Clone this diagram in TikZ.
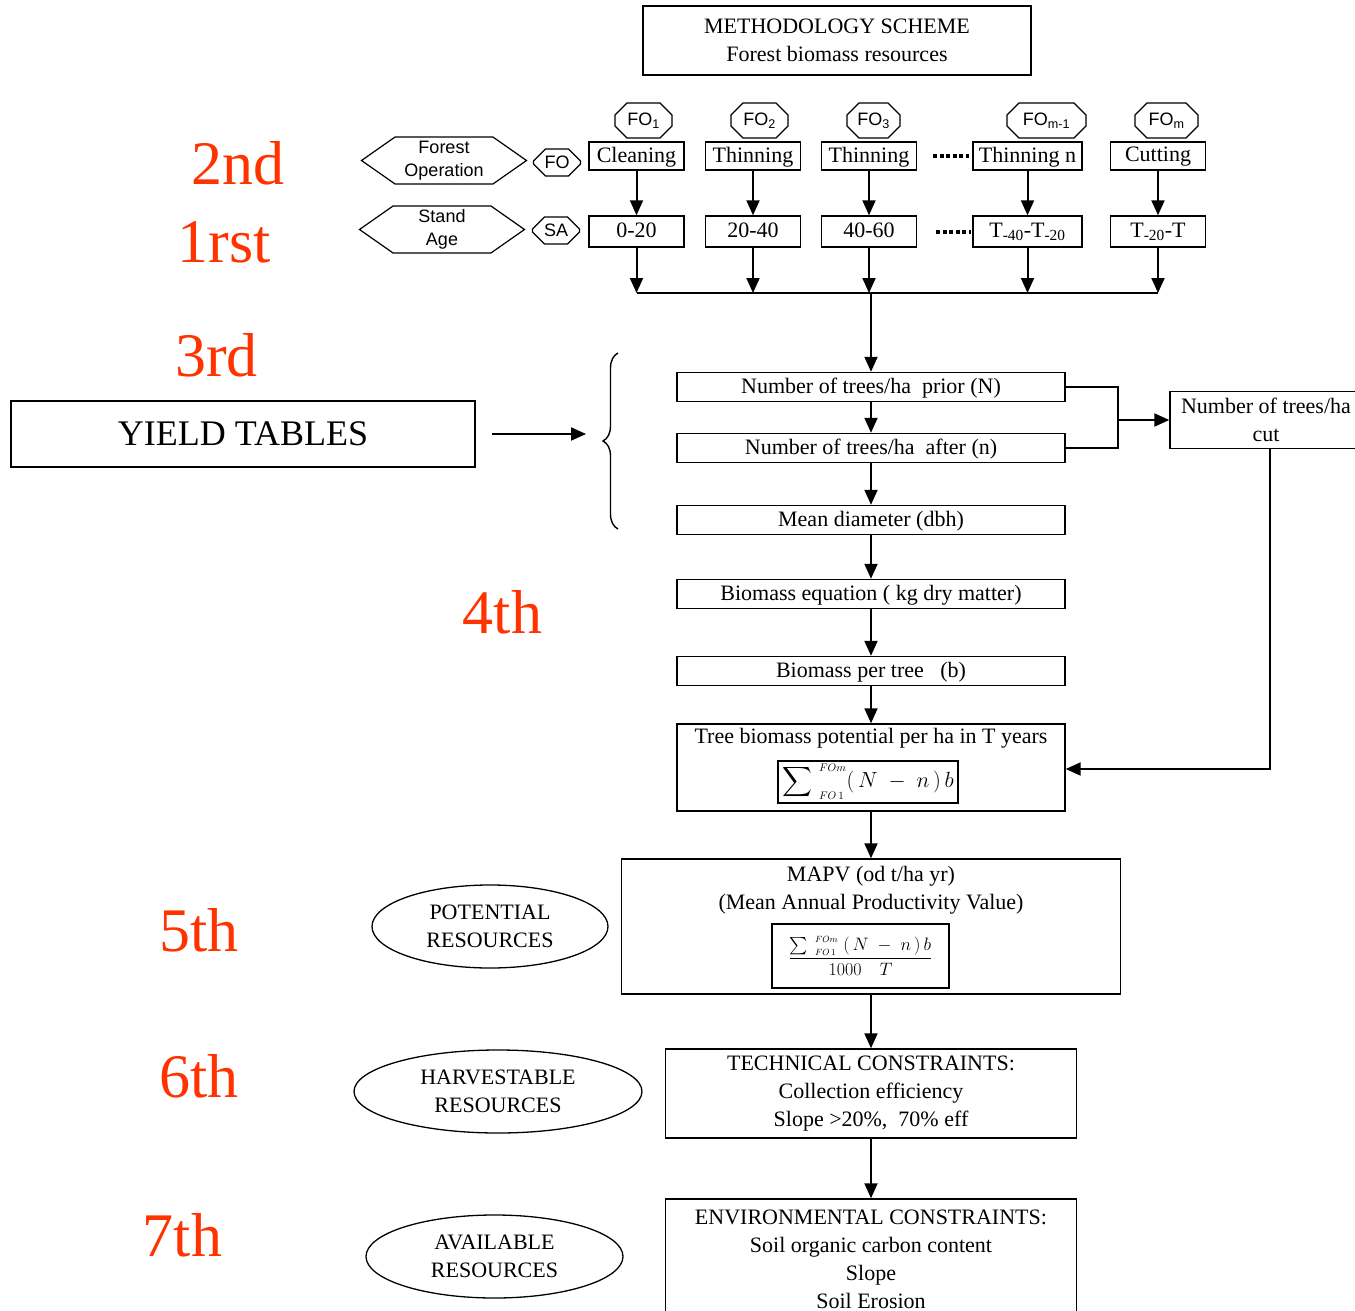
\documentclass[tikz,border=0pt]{standalone}
\usepackage{fix-cm}
\usepackage{amsmath}
\usepackage{fontspec}
\setmainfont{Liberation Serif}
\setsansfont{Liberation Sans}
\usepackage{tikz}
\usetikzlibrary{arrows.meta,shapes.geometric,shapes.misc,shapes.symbols,decorations.pathreplacing}
\definecolor{stagered}{RGB}{255,51,0}
\newcommand{\txtsize}{\fontsize{22}{28}\selectfont}
\newcommand{\sanssize}{\fontsize{18}{23}\selectfont\sffamily}
\newcommand{\fosum}{\sum\nolimits^{\hspace{7pt}\scriptscriptstyle FOm}_{\hspace{7pt}\scriptscriptstyle FO\,1}}
\tikzstyle{stepbox} = [draw, line width=1.4pt, inner sep=2pt, align=center, font=\txtsize]
\tikzstyle{colbox} = [stepbox, minimum width=388pt, minimum height=29pt, text depth=3pt]
\tikzstyle{opbox} = [stepbox, minimum width=95pt, minimum height=28pt, text depth=3pt]
\tikzstyle{agebox} = [stepbox, minimum width=95pt, minimum height=31pt, text depth=3pt]
\tikzstyle{tag} = [draw, line width=1.2pt, chamfered rectangle, chamfered rectangle xsep=6pt, chamfered rectangle ysep=6pt, inner sep=1pt, font=\sanssize]
\tikzstyle{hexa} = [draw, line width=1.2pt, signal, signal to=west and east, signal pointer angle=70, minimum width=165pt, minimum height=47pt, inner sep=0pt, align=center, font=\sanssize]
\tikzstyle{res} = [draw, ellipse, line width=1.3pt, minimum height=83pt, inner sep=0pt, align=center, font=\txtsize]
\tikzstyle{stage} = [text=stagered, font=\fontsize{62}{62}\selectfont]
\tikzstyle{link} = [->, line width=2pt]
\tikzstyle{dots} = [line width=4pt, dash pattern=on 4pt off 2.5pt]

\begin{document}
\begin{tikzpicture}[x=1pt, y=-1pt, >={Triangle[length=15pt,width=13pt]}]
  \useasboundingbox (0,0) rectangle (1355,1311);
  \node[stepbox, minimum width=388pt, minimum height=69pt] (title) at (837,40.5) {METHODOLOGY SCHEME\\Forest biomass resources};
  % stages
  \node[stage] (s2) at (237.5,163) {2nd};
  \node[stage] (s1) at (224,242) {1rst};
  \node[stage] (s3) at (216.5,355) {3rd};
  \node[stage] (s4) at (502.5,612) {4th};
  \node[stage] (s5) at (199,930) {5th};
  \node[stage] (s6) at (199,1076) {6th};
  \node[stage] (s7) at (182.5,1235) {7th};
  % forest operations and stand age
  \node[hexa] (forestop) at (444,160.5) {Forest\\Operation};
  \node[hexa] (standage) at (442,229.5) {Stand\\Age};
  \node[tag, minimum width=47pt, minimum height=27pt] (fo) at (557,162.5) {FO};
  \node[tag, minimum width=47pt, minimum height=27pt] (sa) at (556,230.5) {SA};
  \node[tag, minimum width=57pt, minimum height=35pt] (fo1) at (643.5,120.5) {FO\textsubscript{1}};
  \node[tag, minimum width=57pt, minimum height=35pt] (fo2) at (759.5,120.5) {FO\textsubscript{2}};
  \node[tag, minimum width=53pt, minimum height=35pt] (fo3) at (873.5,120.5) {FO\textsubscript{3}};
  \node[tag, minimum width=79pt, minimum height=35pt] (fo4) at (1046.5,120.5) {FO\textsubscript{m-1}};
  \node[tag, minimum width=63pt, minimum height=35pt] (fo5) at (1166.5,120.5) {FO\textsubscript{m}};
  \node[opbox] (op1) at (636.5,156) {Cleaning};
  \node[opbox] (op2) at (753,156) {Thinning};
  \node[opbox] (op3) at (869,156) {Thinning};
  \node[opbox, minimum width=109pt] (op4) at (1027.5,156) {Thinning n};
  \node[opbox] (op5) at (1158,156) {Cutting};
  \node[agebox] (age1) at (636.5,231.5) {0-20};
  \node[agebox] (age2) at (753,231.5) {20-40};
  \node[agebox] (age3) at (869,231.5) {40-60};
  \node[agebox, minimum width=109pt] (age4) at (1027.5,231.5) {T\textsubscript{-40}-T\textsubscript{-20}};
  \node[agebox] (age5) at (1158,231.5) {T\textsubscript{-20}-T};
  \draw[dots, shorten <=16pt, shorten >=3pt] (op3) -- (op4);
  \draw[dots, shorten <=19pt, shorten >=1pt] (age3) -- (age4);
  \coordinate (hub) at (871,293);
  \foreach \i in {1,...,5} {
    \draw[link] (op\i) -- (age\i);
    \draw[link] (age\i) -- (age\i |- hub);
  }
  \draw[line width=2pt] (age1 |- hub) -- (age5 |- hub);
  % yield tables
  \node[stepbox, minimum width=464pt, minimum height=66pt, font=\fontsize{36}{40}\selectfont] (yield) at (243,434) {YIELD TABLES};
  \coordinate (bracetip) at (586,434);
  \draw[line width=1.4pt, decorate, decoration={brace, amplitude=15pt}] (618,529) -- (618,353);
  \draw[link, shorten <=16pt] (yield) -- (bracetip);
  % main column
  \node[colbox] (prior) at (871,387) {Number of trees/ha\ \ prior (N)};
  \node[colbox] (after) at (871,448) {Number of trees/ha\ \ after (n)};
  \node[colbox] (dbh) at (871,520) {Mean diameter (dbh)};
  \node[colbox] (bioeq) at (871,594) {Biomass equation ( kg dry matter)};
  \node[colbox] (pertree) at (871,671) {Biomass per tree\ \ \ (b)};
  \node[stepbox, minimum width=388pt, minimum height=87pt] (tree) at (871,767.5) {};
  \node[font=\txtsize, inner sep=0pt] (treetxt) at (871,738) {Tree biomass potential per ha in T years};
  \node[stepbox, minimum width=180pt, minimum height=42pt, inner sep=0pt] (treeeq) at (868,782) {$\displaystyle\fosum(\,N\;-\;n\,)\,b$};
  \node[stepbox, minimum width=499pt, minimum height=135pt] (mapv) at (871,926.5) {};
  \node[font=\txtsize, align=center, inner sep=0pt] (mapvtxt) at (871,890.5) {MAPV (od t/ha yr)\\(Mean Annual Productivity Value)};
  \node[stepbox, minimum width=177pt, minimum height=64pt, inner sep=0pt, font=\fontsize{18}{22}\selectfont] (mapveq) at (860.5,956) {$\dfrac{\fosum\;(\,N\;-\;n\,)\,b}{1000\quad T}$};
  \node[stepbox, minimum width=411pt, minimum height=89pt] (tech) at (871,1093.5) {TECHNICAL CONSTRAINTS:\\Collection efficiency\\Slope >20\%,\ \ 70\% eff};
  \node[stepbox, minimum width=411pt, minimum height=120pt] (env) at (871,1259) {ENVIRONMENTAL CONSTRAINTS:\\Soil organic carbon content\\Slope\\Soil Erosion};
  \node[stepbox, minimum width=192pt, minimum height=57pt] (cut) at (1266,420) {Number of trees/ha\\cut};
  % resources
  \node[res, minimum width=236pt] (potential) at (490,926.5) {POTENTIAL\\RESOURCES};
  \node[res, minimum width=288pt] (harvest) at (498,1091.5) {HARVESTABLE\\RESOURCES};
  \node[res, minimum width=257pt] (avail) at (494.5,1256.5) {AVAILABLE\\RESOURCES};
  % connectors
  \draw[link] (hub) -- (prior);
  \draw[link] (prior) -- (after);
  \draw[link] (after) -- (dbh);
  \draw[link] (dbh) -- (bioeq);
  \draw[link] (bioeq) -- (pertree);
  \draw[link] (pertree) -- (tree);
  \draw[link] (tree) -- (mapv);
  \draw[link] (mapv) -- (tech);
  \draw[link] (tech) -- (env);
  \coordinate (join) at (1118,420);
  \draw[line width=1.6pt] (prior.east) -| (join) |- (after.east);
  \draw[link] (join) -- (cut);
  \draw[link] ([xshift=4pt]cut.south) |- ([yshift=-1.5pt]tree.east);
\end{tikzpicture}
\end{document}
